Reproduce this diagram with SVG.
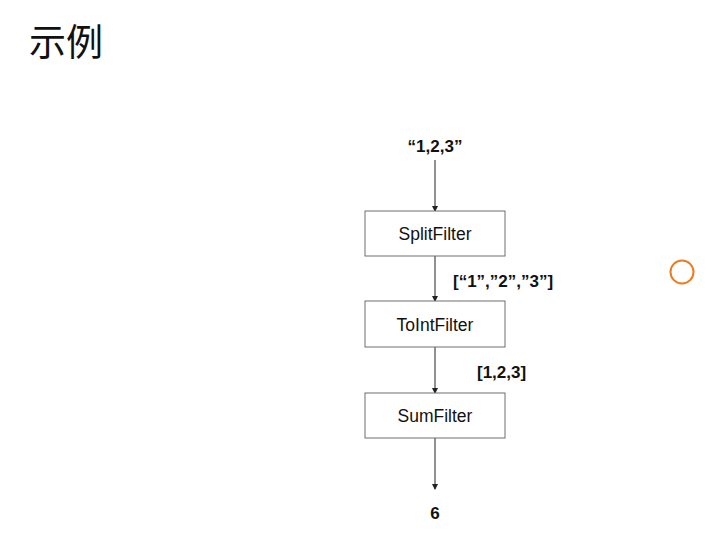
<svg xmlns="http://www.w3.org/2000/svg" width="728" height="550" viewBox="0 0 728 550">
<style>
.box{fill:#fff;stroke:#6e6e6e;stroke-width:1}
.lbl{font-family:"Liberation Sans",Arial,sans-serif;font-size:17.5px;fill:#111;text-anchor:middle}
.data{font-family:"Liberation Sans",Arial,sans-serif;font-size:17px;font-weight:bold;fill:#111}
.edge{stroke:#222;stroke-width:1;fill:none;marker-end:url(#ah)}
</style>
<defs>
<marker id="ah" markerWidth="6" markerHeight="6" refX="5" refY="3" orient="auto" markerUnits="userSpaceOnUse">
<path d="M0,0 L6,3 L0,6 z" fill="#222"/>
</marker>
</defs>
<rect width="728" height="550" fill="#fff"/>
<text x="29" y="56" font-family="'Noto Sans CJK SC',sans-serif" font-size="37" fill="#111">示例</text>
<g id="connectors">
<line class="edge" x1="435" y1="160" x2="435" y2="211"/>
<line class="edge" x1="435" y1="256" x2="435" y2="301"/>
<line class="edge" x1="435" y1="347" x2="435" y2="393"/>
<line class="edge" x1="435" y1="438" x2="435" y2="489"/>
</g>
<g id="input"><text class="data" x="435" y="152" text-anchor="middle">“1,2,3”</text></g>
<g id="splitfilter"><rect class="box" x="365" y="211" width="140" height="45"/><text class="lbl" x="435" y="240">SplitFilter</text></g>
<g id="label1"><text class="data" x="453" y="287">[“1”,”2”,”3”]</text></g>
<g id="tointfilter"><rect class="box" x="365" y="301" width="140" height="46"/><text class="lbl" x="435" y="331">ToIntFilter</text></g>
<g id="label2"><text class="data" x="477" y="378">[1,2,3]</text></g>
<g id="sumfilter"><rect class="box" x="365" y="393" width="140" height="45"/><text class="lbl" x="435" y="422">SumFilter</text></g>
<g id="output"><text class="data" x="435" y="519" text-anchor="middle">6</text></g>
<circle cx="682" cy="272" r="11.5" fill="none" stroke="#ec7b1e" stroke-width="2"/>
</svg>
